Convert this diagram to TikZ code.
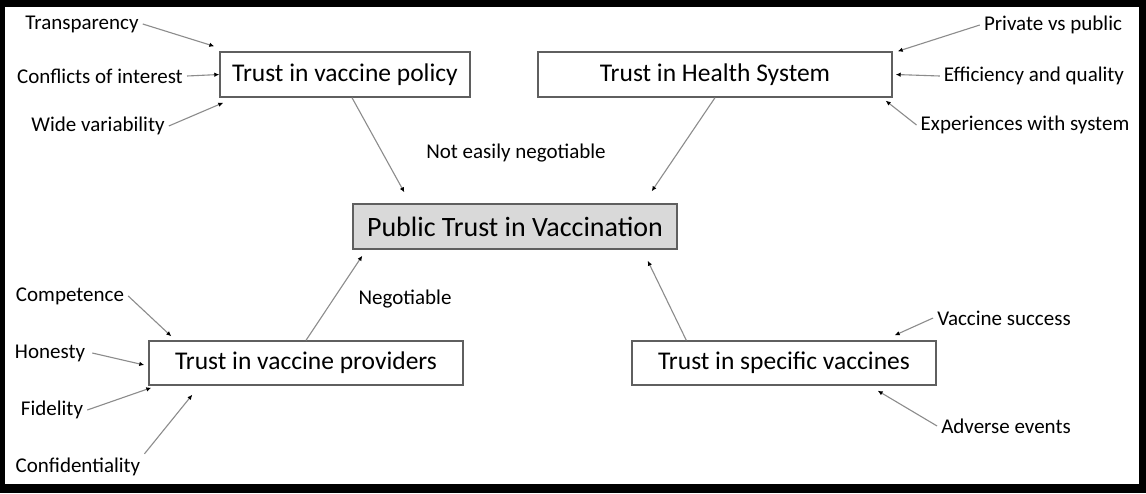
\documentclass[tikz,border=0pt]{standalone}
\usepackage{fontspec}
\setmainfont{Carlito}
\usepackage{xcolor}
\usepackage{tikz}
\usetikzlibrary{arrows.meta,positioning}
\definecolor{box_gray}{RGB}{217,217,217}
\definecolor{edge_gray}{RGB}{95,95,95}
\definecolor{link_gray}{RGB}{140,140,140}

\begin{document}
\begin{tikzpicture}[x=1pt, y=-1pt,
    trustbox/.style={draw=edge_gray, line width=1.4pt, fill=white, inner sep=0pt,
      minimum height=45pt, font=\fontsize{25.5}{30}\selectfont},
    factor/.style={inner sep=4pt, font=\fontsize{21}{24}\selectfont},
    link/.style={draw=link_gray, line width=1.1pt,
      -{Latex[length=5pt, width=4.5pt, color=black]}}]
        % frame
        \useasboundingbox (0,0) rectangle (1146,493);
        \fill[black] (0,0) rectangle (1146,493);
        \fill[white] (5,7) rectangle (1139,484);
        % main boxes
        \node[trustbox, minimum width=250pt] (policy) at (345,74.5) {Trust in vaccine policy};
        \node[trustbox, minimum width=354pt] (health) at (715,74.5) {Trust in Health System};
        \node[trustbox, minimum width=324pt, fill=box_gray, font=\fontsize{28}{32}\selectfont]
          (public) at (515,226.5) {Public Trust in Vaccination};
        \node[trustbox, minimum width=314pt, minimum height=44pt] (providers) at (306,363)
          {Trust in vaccine providers};
        \node[trustbox, minimum width=304pt, minimum height=44pt] (specific) at (784,363)
          {Trust in specific vaccines};
        % factors
        \node[factor] (transp) at (82,24) {Transparency};
        \node[factor] (conflicts) at (100,76) {Conflicts of interest};
        \node[factor] (widevar) at (98,126) {Wide variability};
        \node[factor] (privpub) at (1053,25) {Private vs public};
        \node[factor] (effqual) at (1034,76) {Efficiency and quality};
        \node[factor] (experiences) at (1025,125) {Experiences with system};
        \node[factor] (competence) at (70,296) {Competence};
        \node[factor] (honesty) at (50,353) {Honesty};
        \node[factor] (fidelity) at (52,410) {Fidelity};
        \node[factor] (confid) at (78,467) {Confidentiality};
        \node[factor] (vsuccess) at (1004,318) {Vaccine success};
        \node[factor] (adverse) at (1006,426) {Adverse events};
        \node[factor] (noteasy) at (516,153) {Not easily negotiable};
        \node[factor] (negot) at (405,299) {Negotiable};
        % links
        \draw[link] (transp.east) -- ([shift={(-5pt,5pt)}]policy.north west);
        \draw[link] (conflicts.east) -- (policy.west);
        \draw[link] (widevar.east) -- ([shift={(4pt,-5pt)}]policy.south west);
        \draw[link] (privpub.west) -- ([shift={(5pt,0pt)}]health.north east);
        \draw[link] (effqual.west) -- ([xshift=3pt]health.east);
        \draw[link] (experiences.west) -- ([shift={(-7pt,-3pt)}]health.south east);
        \draw[link] (competence.east) -- ([shift={(23pt,4pt)}]providers.north west);
        \draw[link] ([xshift=3pt]honesty.east) -- ([shift={(-4pt,-2pt)}]providers.west);
        \draw[link] (fidelity.east) -- ([shift={(3pt,-2pt)}]providers.south west);
        \draw[link] (confid.north east) -- ([shift={(44pt,-9pt)}]providers.south west);
        \draw[link] (vsuccess.west) -- ([shift={(-42pt,5pt)}]specific.north east);
        \draw[link] (adverse.west) -- ([shift={(-59pt,-5pt)}]specific.south east);
        % into the centre
        \draw[link] ([xshift=7pt]policy.south) -- ([shift={(52pt,11pt)}]public.north west);
        \draw[link] (health.south) -- ([shift={(-26pt,12pt)}]public.north east);
        \draw[link] (providers.north) -- ([shift={(10pt,-6pt)}]public.south west);
        \draw[link] ([xshift=55pt]specific.north west) -- ([shift={(-30pt,-11pt)}]public.south east);
      \end{tikzpicture}
\end{document}
